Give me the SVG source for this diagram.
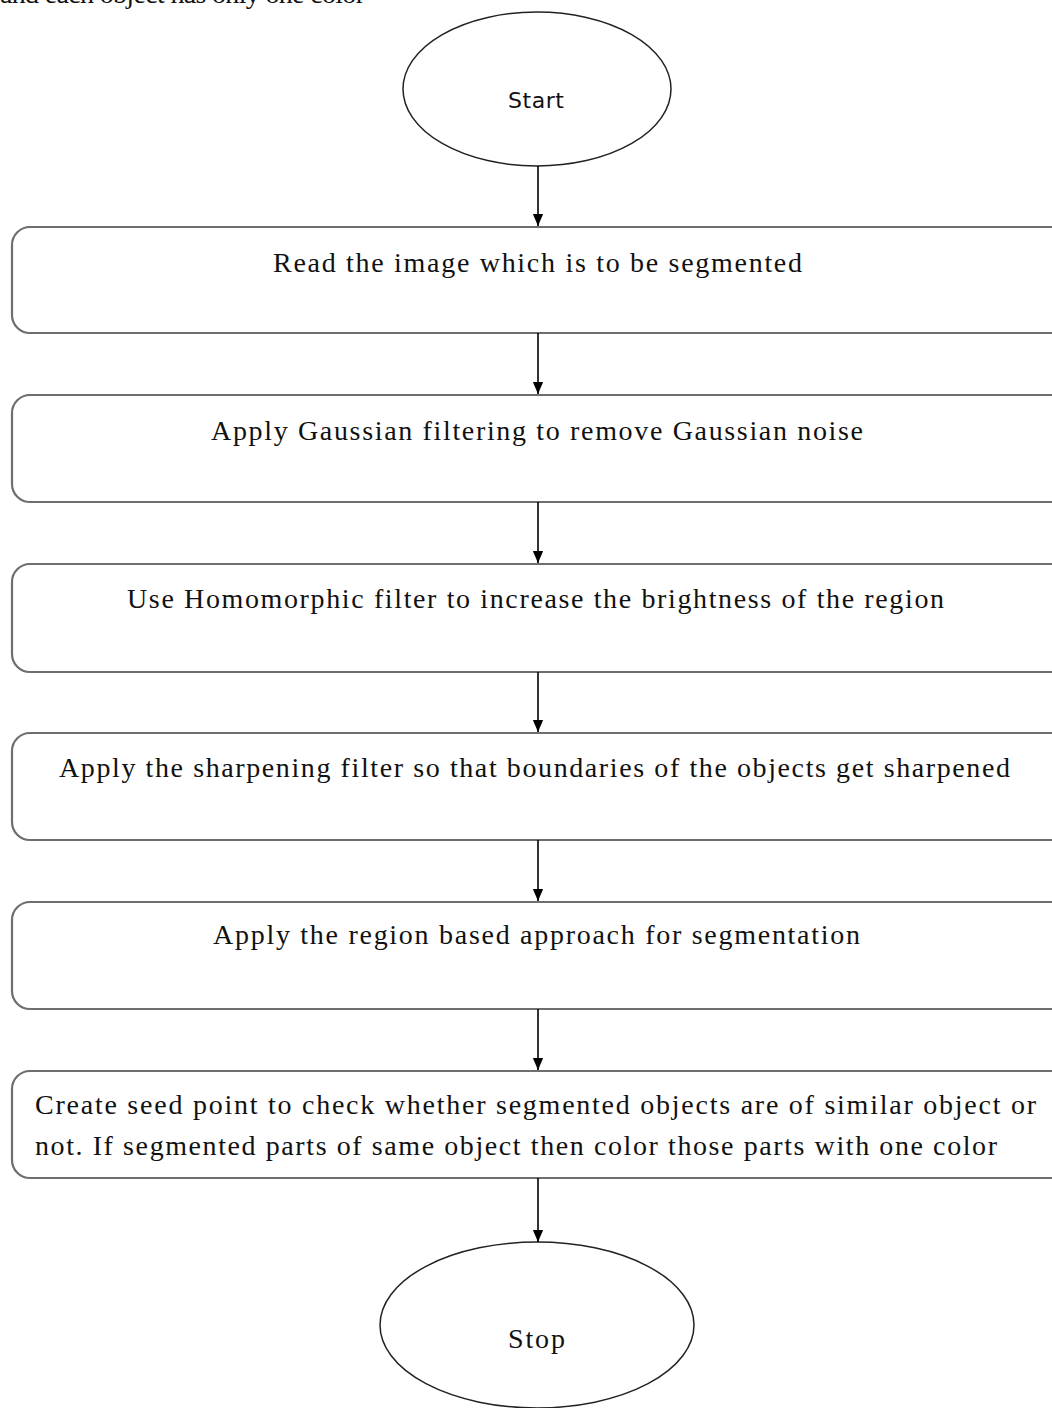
<svg xmlns="http://www.w3.org/2000/svg" width="1052" height="1408" viewBox="0 0 1052 1408">
<style>
.box{fill:#fff;stroke:#6e6e6e;stroke-width:2.2}
.ell{fill:#fff;stroke:#222;stroke-width:1.5}
.t{font-family:"Liberation Serif","DejaVu Serif",serif;font-size:28px;fill:#111;text-anchor:start}
.conn line{stroke:#000;stroke-width:1.6}
</style>
<defs>
<marker id="a2" markerWidth="12" markerHeight="14" refX="14" refY="6" orient="auto" markerUnits="userSpaceOnUse" viewBox="0 0 14 12">
<path d="M0,0 L14,6 L0,12 Z" fill="#000"/>
</marker>
</defs>
<rect width="1052" height="1408" fill="#fff"/>
<text class="t" x="0" y="3" textLength="365" font-size="24">and each object has only one color</text>
<g id="start"><ellipse class="ell" cx="537" cy="89" rx="134" ry="77"/><text x="508" y="108" font-family="DejaVu Sans,sans-serif" font-size="22" fill="#111" textLength="56">Start</text></g>
<g id="n1"><rect class="box" x="12" y="227" width="1060" height="106" rx="18"/><text class="t" x="273" y="272" textLength="529">Read the image which is to be segmented</text></g>
<g id="n2"><rect class="box" x="12" y="395" width="1060" height="107" rx="18"/><text class="t" x="211" y="440" textLength="652">Apply Gaussian filtering to remove Gaussian noise</text></g>
<g id="n3"><rect class="box" x="12" y="564" width="1060" height="108" rx="18"/><text class="t" x="127" y="608" textLength="817">Use Homomorphic filter to increase the brightness of the region</text></g>
<g id="n4"><rect class="box" x="12" y="733" width="1060" height="107" rx="18"/><text class="t" x="59" y="777" textLength="951">Apply the sharpening filter so that boundaries of the objects get sharpened</text></g>
<g id="n5"><rect class="box" x="12" y="902" width="1060" height="107" rx="18"/><text class="t" x="213" y="944" textLength="647">Apply the region based approach for segmentation</text></g>
<g id="n6"><rect class="box" x="12" y="1071" width="1060" height="107" rx="18"/><text class="t" x="35" y="1114" textLength="1001">Create seed point to check whether segmented objects are of similar object or</text><text class="t" x="35" y="1155" textLength="962">not. If segmented parts of same object then color those parts with one color</text></g>
<g id="stop"><ellipse class="ell" cx="537" cy="1325" rx="157" ry="83"/><text class="t" x="508" y="1348" textLength="57">Stop</text></g>
<g class="conn" id="connectors">
<line x1="538" y1="166" x2="538" y2="226" marker-end="url(#a2)"/>
<line x1="538" y1="333" x2="538" y2="394" marker-end="url(#a2)"/>
<line x1="538" y1="502" x2="538" y2="563" marker-end="url(#a2)"/>
<line x1="538" y1="672" x2="538" y2="732" marker-end="url(#a2)"/>
<line x1="538" y1="840" x2="538" y2="901" marker-end="url(#a2)"/>
<line x1="538" y1="1009" x2="538" y2="1070" marker-end="url(#a2)"/>
<line x1="538" y1="1178" x2="538" y2="1242" marker-end="url(#a2)"/>
</g>
</svg>
